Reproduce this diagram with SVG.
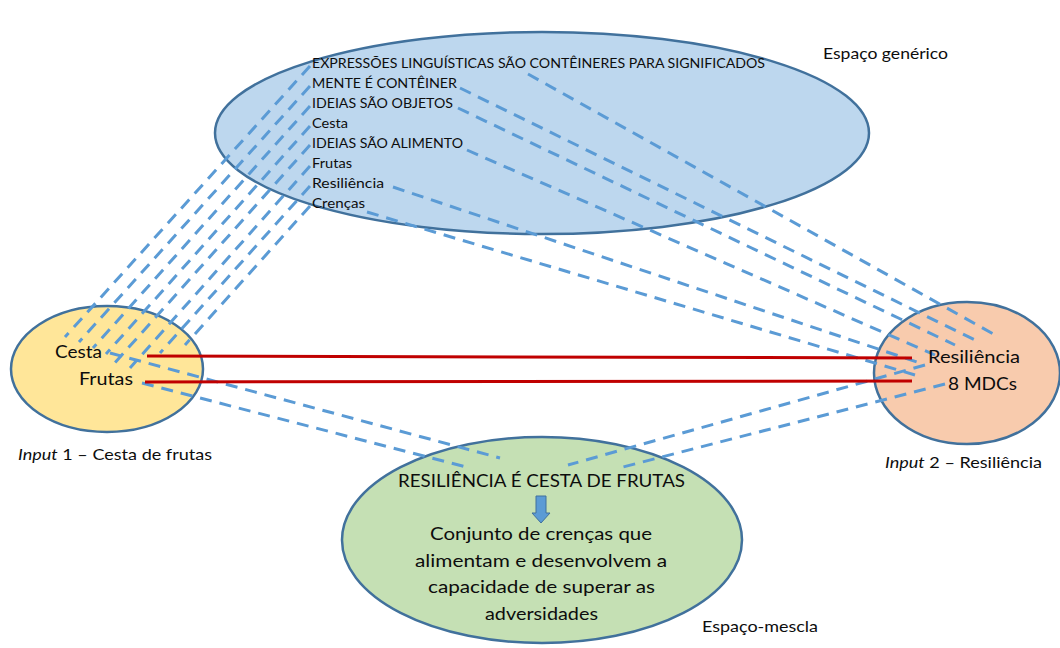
<svg xmlns="http://www.w3.org/2000/svg" width="1060" height="648" viewBox="0 0 1060 648">
  <style>
    .node { stroke: #41719c; stroke-width: 2.5; }
    .txt { font-family: Lato, "Liberation Sans", sans-serif; fill: #0d0d0d; }
    .dash { fill: none; stroke: #5b9bd5; stroke-width: 3; stroke-dasharray: 12 8; }
    .red { fill: none; stroke: #c00000; stroke-width: 3; }
  </style>
  <rect width="1060" height="648" fill="#ffffff"/>

  <!-- generic space -->
  <g id="generic-space">
    <ellipse class="node" cx="542" cy="133" rx="327" ry="101" fill="#bdd7ee"/>
  </g>
  <!-- input 1 -->
  <g id="input-1">
    <ellipse class="node" cx="107" cy="369" rx="96" ry="63" fill="#ffe699"/>
  </g>
  <!-- input 2 -->
  <g id="input-2">
    <ellipse class="node" cx="967" cy="373" rx="93" ry="71" fill="#f8cbad"/>
  </g>
  <!-- blended space -->
  <g id="blend-space">
    <ellipse class="node" cx="542" cy="540" rx="200" ry="103" fill="#c5e0b4"/>
    <polygon points="536,496 546,496 546,513 550,513 541,523 532,513 536,513" fill="#5b9bd5" stroke="#41719c" stroke-width="1"/>
  </g>

  <!-- connectors -->
  <g id="connectors">
    <!-- generic space to input 1 -->
    <line class="dash" x1="310" y1="66" x2="65" y2="337"/>
    <line class="dash" x1="310" y1="86" x2="79" y2="342"/>
    <line class="dash" x1="310" y1="106" x2="93" y2="348"/>
    <line class="dash" x1="310" y1="126" x2="106" y2="354"/>
    <line class="dash" x1="310" y1="145" x2="112" y2="366"/>
    <line class="dash" x1="310" y1="166" x2="130" y2="368"/>
    <line class="dash" x1="310" y1="186" x2="160" y2="353"/>
    <line class="dash" x1="310" y1="206" x2="185" y2="345"/>
    <!-- generic space to input 2 -->
    <line class="dash" x1="528" y1="74" x2="997" y2="336"/>
    <line class="dash" x1="460" y1="88" x2="975" y2="340"/>
    <line class="dash" x1="458" y1="108" x2="955" y2="345"/>
    <line class="dash" x1="467" y1="150" x2="935" y2="355"/>
    <line class="dash" x1="393" y1="187" x2="920" y2="363"/>
    <line class="dash" x1="367" y1="212" x2="915" y2="375"/>
    <!-- inputs to blend -->
    <line class="dash" x1="110" y1="353" x2="500" y2="458"/>
    <line class="dash" x1="142" y1="383" x2="470" y2="468"/>
    <line class="dash" x1="925" y1="365" x2="568" y2="465"/>
    <line class="dash" x1="945" y1="384" x2="623" y2="467"/>
    <!-- cross-space mappings -->
    <line class="red" x1="147" y1="356" x2="912" y2="358"/>
    <line class="red" x1="145" y1="382" x2="912" y2="381"/>
  </g>

  <!-- labels -->
  <g id="generic-labels" class="txt" font-size="14">
    <text x="312" y="68" textLength="453" lengthAdjust="spacingAndGlyphs">EXPRESSÕES LINGUÍSTICAS SÃO CONTÊINERES PARA SIGNIFICADOS</text>
    <text x="312" y="88" textLength="145" lengthAdjust="spacingAndGlyphs">MENTE É CONTÊINER</text>
    <text x="312" y="108" textLength="141" lengthAdjust="spacingAndGlyphs">IDEIAS SÃO OBJETOS</text>
    <text x="312" y="128" textLength="36" lengthAdjust="spacingAndGlyphs">Cesta</text>
    <text x="312" y="148" textLength="151" lengthAdjust="spacingAndGlyphs">IDEIAS SÃO ALIMENTO</text>
    <text x="312" y="168" textLength="40" lengthAdjust="spacingAndGlyphs">Frutas</text>
    <text x="312" y="188" textLength="72" lengthAdjust="spacingAndGlyphs">Resiliência</text>
    <text x="312" y="208" textLength="53" lengthAdjust="spacingAndGlyphs">Crenças</text>
  </g>
  <text class="txt" x="823" y="59" font-size="15" textLength="125" lengthAdjust="spacingAndGlyphs">Espaço genérico</text>

  <g id="input-1-labels" class="txt" font-size="18">
    <text x="55" y="358" textLength="47" lengthAdjust="spacingAndGlyphs">Cesta</text>
    <text x="79" y="385" textLength="54" lengthAdjust="spacingAndGlyphs">Frutas</text>
  </g>
  <text class="txt" x="18" y="460" font-size="16" textLength="194" lengthAdjust="spacingAndGlyphs"><tspan font-style="italic">Input</tspan> 1 – Cesta de frutas</text>

  <g id="input-2-labels" class="txt" font-size="18">
    <text x="928" y="363" textLength="92" lengthAdjust="spacingAndGlyphs">Resiliência</text>
    <text x="948" y="390" textLength="69" lengthAdjust="spacingAndGlyphs">8 MDCs</text>
  </g>
  <text class="txt" x="885" y="468" font-size="16" textLength="157" lengthAdjust="spacingAndGlyphs"><tspan font-style="italic">Input</tspan> 2 – Resiliência</text>

  <g id="blend-labels" class="txt" font-size="18">
    <text x="398" y="487" textLength="287" lengthAdjust="spacingAndGlyphs">RESILIÊNCIA É CESTA DE FRUTAS</text>
    <text x="430" y="540" textLength="222" lengthAdjust="spacingAndGlyphs">Conjunto de crenças que</text>
    <text x="415" y="567" textLength="252" lengthAdjust="spacingAndGlyphs">alimentam e desenvolvem  a</text>
    <text x="428" y="593" textLength="227" lengthAdjust="spacingAndGlyphs">capacidade de superar as</text>
    <text x="485" y="620" textLength="113" lengthAdjust="spacingAndGlyphs">adversidades</text>
  </g>
  <text class="txt" x="702" y="632" font-size="16" textLength="116" lengthAdjust="spacingAndGlyphs">Espaço-mescla</text>
</svg>
